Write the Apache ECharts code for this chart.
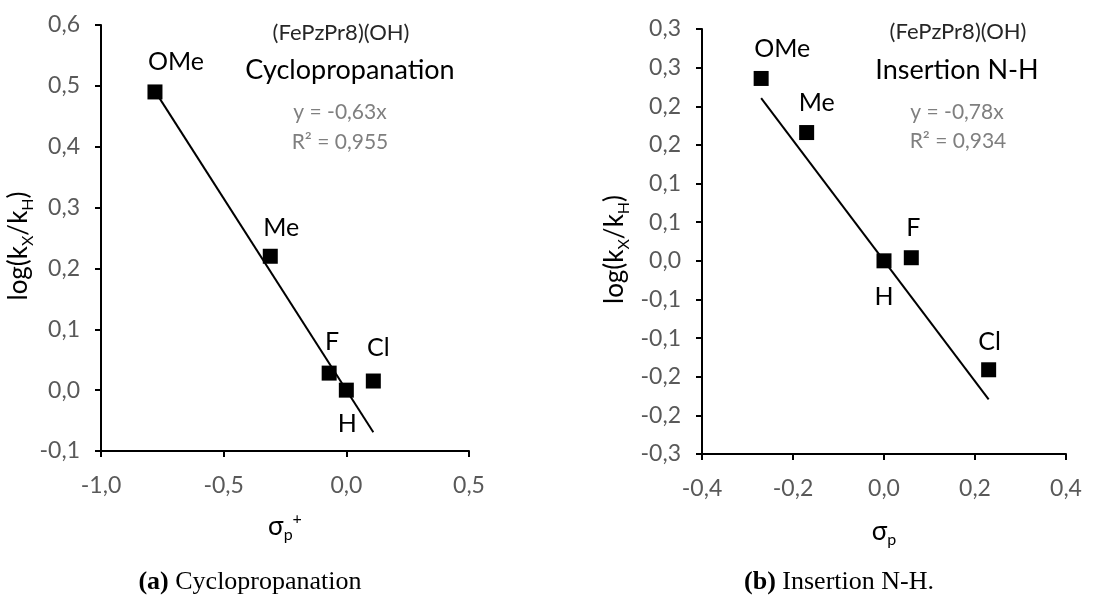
<!DOCTYPE html>
<html>
<head>
<meta charset="utf-8">
<script src="https://cdn.jsdelivr.net/npm/echarts@6/dist/echarts.min.js"></script>
<style>
  html, body { margin: 0; padding: 0; background: #fff; }
  #chart { width: 1113px; height: 597px; }
</style>
</head>
<body>
<div id="chart"></div>
<script>
// (a) cyclopropanation
var cycloNames = ['OMe', 'Me', 'F', 'H', 'Cl']
var cycloSigma = [-0.78, -0.31, -0.07, 0.0, 0.11]
var cycloLog = [0.49, 0.22, 0.028, 0.0, 0.015]
var cycloSlope = -0.63
var cycloXTicks = [-1.0, 0.5, 0.5] // min, max, interval
var cycloYTicks = [-0.1, 0.6, 0.1]

// (b) insertion N-H
var nhNames = ['OMe', 'Me', 'H', 'F', 'Cl']
var nhSigma = [-0.27, -0.17, 0.0, 0.06, 0.23]
var nhLog = [0.236, 0.166, 0.0, 0.004, -0.141]
var nhSlope = -0.78
var nhXTicks = [-0.4, 0.4, 0.2]
var nhYTicks = [-0.25, 0.3, 0.05]

// label offsets (px) for the point names
var cycloLabelOffset = [[21, -30], [11, -28], [3, -31], [1, 34], [5, -33]]
var nhLabelOffset = [[21, -30], [10, -30], [0, 36], [2, -30], [1, -28]]

var FONT = 'Lato, "Open Sans", sans-serif'
var SERIF = '"Liberation Serif", "Times New Roman", serif'

function fmt(v) {
  var r = Math.round(Math.abs(v) * 10 + 1e-6) / 10
  return (v < 0 && r > 0 ? '-' : '') + r.toFixed(1).replace('.', ',')
}

function pointData(xs, ys, names, offsets) {
  return xs.map(function(x, i) {
    return {
      value: [x, ys[i]],
      name: names[i],
      label: { offset: offsets[i] }
    }
  })
}

function trend(xs, slope) {
  var lo = Math.min.apply(null, xs)
  var hi = Math.max.apply(null, xs)
  return [[lo, slope * lo], [hi, slope * hi]]
}

var axisLine = { show: true, onZero: false, lineStyle: { color: '#000', width: 2 } }
var axisTick = { show: true, length: 6, lineStyle: { color: '#000', width: 2 } }
var tickLabel = { color: '#595959', fontSize: 23, fontFamily: FONT, formatter: fmt }

function xAxis(gridIndex, ticks, name, gap) {
  return {
    type: 'value', gridIndex: gridIndex,
    min: ticks[0], max: ticks[1], interval: ticks[2],
    axisLine: axisLine, axisTick: axisTick,
    axisLabel: Object.assign({ margin: 23 }, tickLabel),
    splitLine: { show: false },
    name: name, nameLocation: 'middle', nameGap: gap,
    nameTextStyle: {
      color: '#000', fontFamily: FONT,
      rich: {
        a: { fontSize: 26, fontFamily: FONT, color: '#000', lineHeight: 32, verticalAlign: 'middle' },
        s: { fontSize: 16, fontFamily: FONT, color: '#000', lineHeight: 32, verticalAlign: 'bottom' },
        u: { fontSize: 16, fontFamily: FONT, color: '#000', lineHeight: 32, verticalAlign: 'top' }
      }
    }
  }
}

function yAxis(gridIndex, ticks, gap) {
  return {
    type: 'value', gridIndex: gridIndex,
    min: ticks[0], max: ticks[1], interval: ticks[2],
    axisLine: axisLine, axisTick: axisTick,
    axisLabel: Object.assign({ margin: 21 }, tickLabel),
    splitLine: { show: false },
    name: '{a|log(k}{s|X}{a|/k}{s|H}{a|)}',
    nameLocation: 'middle', nameGap: gap,
    nameTextStyle: {
      color: '#000', fontFamily: FONT,
      padding: [0, 16, 0, 0],
      rich: {
        a: { fontSize: 26, fontFamily: FONT, color: '#000', lineHeight: 34, verticalAlign: 'middle' },
        s: { fontSize: 16, fontFamily: FONT, color: '#000', lineHeight: 34, verticalAlign: 'bottom' }
      }
    }
  }
}

function scatter(idx, data) {
  return {
    type: 'scatter', xAxisIndex: idx, yAxisIndex: idx,
    symbol: 'rect', symbolSize: 15,
    itemStyle: { color: '#000', opacity: 1 },
    label: {
      show: true, position: 'inside', formatter: '{b}',
      color: '#000', fontSize: 25, fontFamily: FONT
    },
    data: data, z: 3
  }
}

function line(idx, data) {
  return {
    type: 'line', xAxisIndex: idx, yAxisIndex: idx,
    symbol: 'none', lineStyle: { color: '#000', width: 2 },
    data: data, z: 2
  }
}

function txt(x, y, text, size, color, family) {
  return {
    type: 'text', x: x, y: y,
    style: {
      text: text, fill: color, font: size + 'px ' + family,
      textAlign: 'center', textVerticalAlign: 'middle'
    }
  }
}

function caption(x, y, tag, text) {
  return {
    type: 'text', x: x, y: y,
    style: {
      rich: {
        b: { font: 'bold 26px ' + SERIF, fill: '#000' },
        n: { font: '26px ' + SERIF, fill: '#000' }
      },
      text: '{b|' + tag + '}{n| ' + text + '}',
      textAlign: 'center', textVerticalAlign: 'middle'
    }
  }
}

var chart = echarts.init(document.getElementById('chart'))
chart.setOption({
  animation: false,
  backgroundColor: '#fff',
  grid: [
    { left: 101, top: 25, width: 368, height: 426 },
    { left: 702, top: 29, width: 364, height: 425 }
  ],
  xAxis: [
    xAxis(0, cycloXTicks, '{a|σ}{s|p}{u|+}', 60),
    xAxis(1, nhXTicks, '{a|σ}{s|p}', 62)
  ],
  yAxis: [
    yAxis(0, cycloYTicks, 59),
    yAxis(1, nhYTicks, 70)
  ],
  series: [
    line(0, trend(cycloSigma, cycloSlope)),
    scatter(0, pointData(cycloSigma, cycloLog, cycloNames, cycloLabelOffset)),
    line(1, trend(nhSigma, nhSlope)),
    scatter(1, pointData(nhSigma, nhLog, nhNames, nhLabelOffset))
  ],
  graphic: [
    txt(341, 33, '(FePzPr8)(OH)', 22, '#262626', FONT),
    txt(350, 70, 'Cyclopropanation', 27, '#000', FONT),
    txt(340, 112, 'y = -0,63x', 21, '#7f7f7f', FONT),
    txt(340, 142, 'R² = 0,955', 21, '#7f7f7f', FONT),
    txt(958, 32, '(FePzPr8)(OH)', 22, '#262626', FONT),
    txt(957, 70, 'Insertion N-H', 27, '#000', FONT),
    txt(957, 112, 'y = -0,78x', 21, '#7f7f7f', FONT),
    txt(958, 141, 'R² = 0,934', 21, '#7f7f7f', FONT),
    caption(250, 582, '(a)', 'Cyclopropanation'),
    caption(839, 582, '(b)', 'Insertion N-H.')
  ]
})
</script>
</body>
</html>
